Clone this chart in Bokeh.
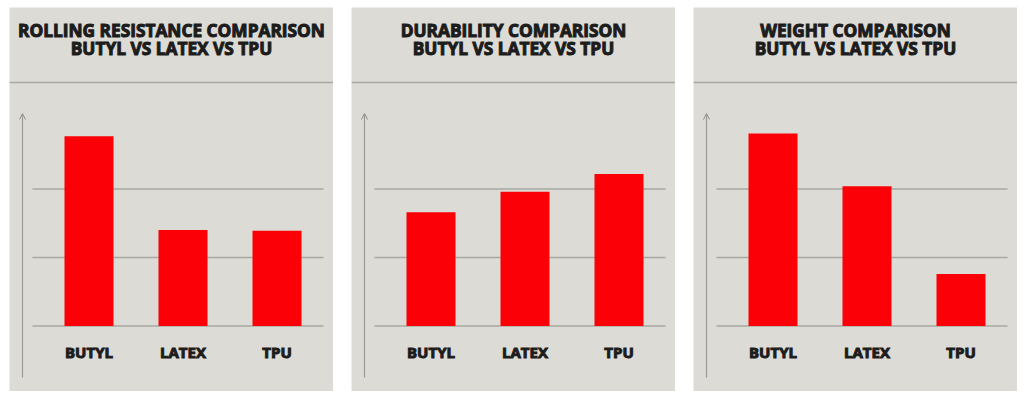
from bokeh.plotting import figure
from bokeh.layouts import row
from bokeh.models import Range1d, Arrow, OpenHead, Span, ColumnDataSource
from bokeh.core.properties import value
from bokeh.embed import file_html
from bokeh.resources import INLINE

# ---- data ----
categories = ["BUTYL", "LATEX", "TPU"]
titles_line1 = ["ROLLING RESISTANCE COMPARISON", "DURABILITY COMPARISON", "WEIGHT COMPARISON"]
title_line2 = "BUTYL VS LATEX VS TPU"
rolling_resistance = [2.77, 1.40, 1.39]
durability = [1.66, 1.96, 2.22]
weight = [2.81, 2.04, 0.76]
grid_levels = [0, 1, 2]

series = [rolling_resistance, durability, weight]

# ---- layout constants (pixels) ----
W, H = 324, 384
UNIT_X, FIRST_CX = 94.0, 79.5
UNIT_Y, BASE = 68.5, 318.5

BG = "#dcdbd5"
RED = "#fc0007"
GRID = "#a8a8a3"
TXT = "#1c1c1c"
FONT = value("Open Sans")


def px_x(px):
    return (px - FIRST_CX) / UNIT_X


def px_y(py):
    return (BASE - py) / UNIT_Y


def make_panel(t1, vals):
    p = figure(width=W, height=H, output_backend="svg", toolbar_location=None,
               x_range=Range1d(px_x(0), px_x(W)), y_range=Range1d(px_y(H), px_y(0)),
               min_border=0, min_border_left=0, min_border_right=0,
               min_border_top=0, min_border_bottom=0)
    p.axis.visible = False
    p.grid.visible = False
    p.outline_line_color = None
    p.background_fill_color = BG
    p.border_fill_color = BG

    # gridlines
    p.segment(x0=[px_x(23)] * len(grid_levels), x1=[px_x(314)] * len(grid_levels),
              y0=grid_levels, y1=grid_levels, line_color=GRID, line_width=1.6)

    # bars
    xs = list(range(len(categories)))
    src = ColumnDataSource(dict(x=xs, top=vals, cat=categories))
    p.vbar(x="x", top="top", bottom=0, width=49 / UNIT_X, source=src,
           fill_color=RED, line_color=None)

    # y axis arrow
    p.add_layout(Arrow(end=OpenHead(size=6, line_color="#8f8f8b", line_width=1),
                       x_start=px_x(13), y_start=px_y(370), x_end=px_x(13), y_end=px_y(106),
                       line_color="#9a9a96", line_width=1.2))

    # divider under title
    p.add_layout(Span(location=px_y(75), dimension="width", line_color=GRID, line_width=1.6))

    # titles
    cx = px_x(162)
    p.text(x=[cx, cx], y=[px_y(23), px_y(41)], text=[t1, title_line2],
           text_font=FONT, text_font_style="bold", text_font_size="17.3px",
           text_color=TXT, text_outline_color=TXT, text_align="center", text_baseline="middle")

    # category labels
    p.text(x="x", y=px_y(344), text="cat", source=src,
           text_font=FONT, text_font_style="bold", text_font_size="15px",
           text_color=TXT, text_outline_color=TXT, text_align="center", text_baseline="middle")
    return p


panels = [make_panel(t, v) for t, v in zip(titles_line1, series)]
layout = row(*panels, spacing=18, margin=(7, 0, 0, 9))

open("out.html", "w").write(file_html(layout, INLINE))
